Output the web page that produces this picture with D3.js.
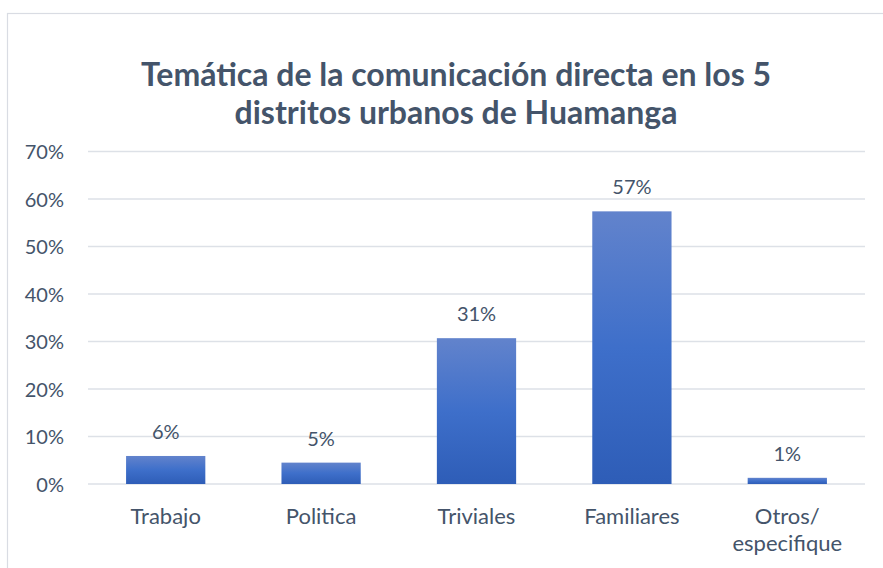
<!DOCTYPE html>
<html><head><meta charset="utf-8">
<script src="https://cdn.jsdelivr.net/npm/d3@7/dist/d3.min.js"></script>
<style>body{margin:0;background:#fff}</style>
</head><body>
<svg id="c" width="883" height="568"></svg>
<script>
const categories = ["Trabajo", "Politica", "Triviales", "Familiares", "Otros/\nespecifique"];
const values = [0.059, 0.045, 0.307, 0.574, 0.013];
const valueLabels = ["6%", "5%", "31%", "57%", "1%"];
const yTicks = [0, 0.1, 0.2, 0.3, 0.4, 0.5, 0.6, 0.7];
const titleLines = ["Temática de la comunicación directa en los 5", "distritos urbanos de Huamanga"];

const svg = d3.select("#c");
const textColor = "#44546A";
const font = "Lato, 'Open Sans', sans-serif";

// frame
svg.append("rect").attr("x", 7.5).attr("y", 13.5).attr("width", 900).attr("height", 600)
  .attr("fill", "#fff").attr("stroke", "#d9dce3").attr("stroke-width", 1.2);

const defs = svg.append("defs");
const g = defs.append("linearGradient").attr("id", "bg").attr("x1", 0).attr("y1", 0).attr("x2", 0).attr("y2", 1);
g.append("stop").attr("offset", "0%").attr("stop-color", "#6283CC");
g.append("stop").attr("offset", "50%").attr("stop-color", "#3E6FCA");
g.append("stop").attr("offset", "100%").attr("stop-color", "#2E5DB7");

const x = d3.scaleBand().domain(categories).range([88, 865]).paddingInner(0.49).paddingOuter(0.245);
const y = d3.scaleLinear().domain([0, 0.7]).range([484, 151.5]);

// grid
svg.append("g").selectAll("line").data(yTicks).join("line")
  .attr("x1", 88).attr("x2", 865).attr("y1", d => y(d)).attr("y2", d => y(d))
  .attr("stroke", "#dde1e7").attr("stroke-width", 1.5);

// y axis labels
const yAxis = d3.axisLeft(y).tickValues(yTicks).tickFormat(d3.format(".0%")).tickSize(0).tickPadding(0);
const ya = svg.append("g").attr("transform", "translate(64,0)").call(yAxis);
ya.select(".domain").remove();
ya.selectAll("text").attr("font-family", font).attr("font-size", 20).attr("fill", textColor).attr("dy", "0.35em");

// bars
svg.append("g").selectAll("rect").data(values).join("rect")
  .attr("x", (d, i) => x(categories[i])).attr("width", x.bandwidth())
  .attr("y", d => y(d)).attr("height", d => y(0) - y(d))
  .attr("fill", "url(#bg)");

// value labels
svg.append("g").selectAll("text").data(values).join("text")
  .attr("x", (d, i) => x(categories[i]) + x.bandwidth() / 2)
  .attr("y", d => y(d) - 17)
  .attr("text-anchor", "middle").attr("font-family", font).attr("font-size", 20).attr("fill", textColor)
  .text((d, i) => valueLabels[i]);

// category labels
const cl = svg.append("g").selectAll("text").data(categories).join("text")
  .attr("x", d => x(d) + x.bandwidth() / 2).attr("y", 524)
  .attr("text-anchor", "middle").attr("font-family", font).attr("font-size", 22).attr("fill", textColor);
cl.each(function(d) {
  const parts = d.split("\n");
  parts.forEach((p, i) => d3.select(this).append("tspan")
    .attr("x", x(d) + x.bandwidth() / 2).attr("dy", i === 0 ? 0 : 27).text(p));
});

// title
svg.append("g").selectAll("text").data(titleLines).join("text")
  .attr("x", 456).attr("y", (d, i) => 86 + i * 38)
  .attr("text-anchor", "middle").attr("font-family", font).attr("font-weight", "bold")
  .attr("font-size", 32).attr("fill", textColor).text(d => d);
</script>
</body></html>
